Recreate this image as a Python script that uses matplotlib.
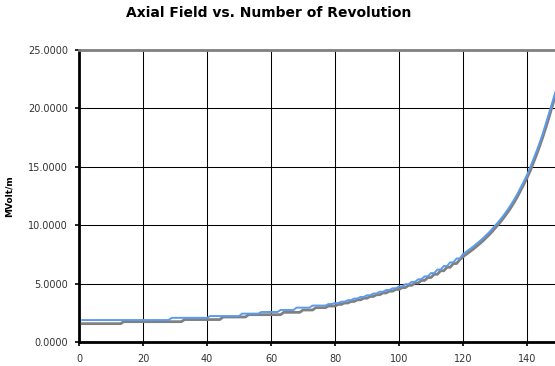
import numpy as np
import matplotlib
matplotlib.use("Agg")
import matplotlib.pyplot as plt
from matplotlib.ticker import FormatStrFormatter

# step data: revolution where a new field level starts, and that level (MVolt/m)
blue_rev = [1, 29, 41, 51, 57, 63, 68, 73, 78,
            80, 82, 84, 86, 88, 90, 92, 94, 96, 98, 100, 102, 104, 106, 108,
            110, 112, 114, 116, 118,
            120, 121, 122, 123, 124, 125, 126, 127, 128, 129, 130, 131, 132,
            133, 134, 135, 136, 137, 138, 139, 140, 141, 142, 143, 144, 145,
            146, 147, 148, 149]
blue_field = [1.88, 2.07, 2.22, 2.43, 2.57, 2.74, 2.94, 3.12, 3.25,
              3.33, 3.45, 3.58, 3.72, 3.86, 4.00, 4.15, 4.30, 4.45, 4.60, 4.75,
              4.95, 5.15, 5.37, 5.62, 5.90, 6.20, 6.50, 6.82, 7.15,
              7.52, 7.72, 7.92, 8.13, 8.35, 8.58, 8.82, 9.08, 9.35, 9.64, 9.95,
              10.27, 10.60, 10.96, 11.35, 11.76, 12.20, 12.68, 13.20, 13.74,
              14.30, 14.95, 15.65, 16.35, 17.10, 17.90, 18.80, 19.70, 20.60,
              21.50]

gray_rev = [1, 14, 33, 45, 53, 64, 70, 74, 78,
            81, 83, 85, 87, 89, 91, 93, 95, 97, 99, 101, 103, 105, 107, 109,
            111, 113, 115, 117, 119,
            120, 121, 122, 123, 124, 125, 126, 127, 128, 129, 130, 131, 132,
            133, 134, 135, 136, 137, 138, 139, 140, 141, 142, 143, 144, 145,
            146, 147, 148, 149]
gray_field = [1.57, 1.74, 1.92, 2.14, 2.34, 2.54, 2.74, 2.94, 3.08,
              3.22, 3.34, 3.47, 3.61, 3.75, 3.90, 4.05, 4.20, 4.35, 4.50, 4.66,
              4.85, 5.05, 5.27, 5.52, 5.80, 6.10, 6.40, 6.72, 7.05,
              7.30, 7.50, 7.70, 7.91, 8.13, 8.36, 8.60, 8.86, 9.13, 9.42, 9.73,
              10.05, 10.38, 10.74, 11.12, 11.52, 11.96, 12.44, 12.96, 13.50,
              14.05, 14.65, 15.35, 16.05, 16.80, 17.60, 18.45, 19.35, 20.30,
              21.20]

x_ticks = [0, 20, 40, 60, 80, 100, 120, 140]
y_ticks = [0, 5, 10, 15, 20, 25]


def expand(revs, levels, last=149):
    # one value per revolution, held until the next change
    x = np.arange(revs[0], last + 1)
    idx = np.searchsorted(revs, x, side="right") - 1
    return x, np.asarray(levels)[idx]


fig = plt.figure(figsize=(5.55, 3.66), dpi=100)
ax = fig.add_axes([79 / 555, 24 / 366, 1 - 79 / 555, 292 / 366])

gx, gy = expand(gray_rev, gray_field)
bx, by = expand(blue_rev, blue_field)
ax.plot(gx, gy, color="#808080", lw=2.0, zorder=3)
ax.plot(bx, by, color="#5b9bef", lw=1.4, zorder=4)

ax.set_xlim(0, 148.75)
ax.set_ylim(0, 25)
ax.set_xticks(x_ticks)
ax.set_yticks(y_ticks)
ax.yaxis.set_major_formatter(FormatStrFormatter("%.4f"))
ax.grid(True, color="black", lw=0.75, snap=True)
ax.set_axisbelow(True)

for side in ("left", "bottom"):
    ax.spines[side].set_linewidth(2)
    ax.spines[side].set_color("black")
ax.spines["top"].set_color("#808080")
ax.spines["top"].set_linewidth(2)
ax.spines["right"].set_visible(False)

ax.tick_params(direction="out", length=3, width=1.2, labelsize=7, colors="black",
               labelcolor="#333333")
ax.tick_params(axis="y", pad=5)
ax.tick_params(axis="x", pad=6)
ax.set_ylabel("MVolt/m", fontsize=6.5, fontweight="bold", labelpad=10)

fig.text(269 / 555, 1 - 13 / 366, "Axial Field vs. Number of Revolution",
         ha="center", va="center", fontsize=10, fontweight="bold")

fig.savefig("out.png", dpi=100)
